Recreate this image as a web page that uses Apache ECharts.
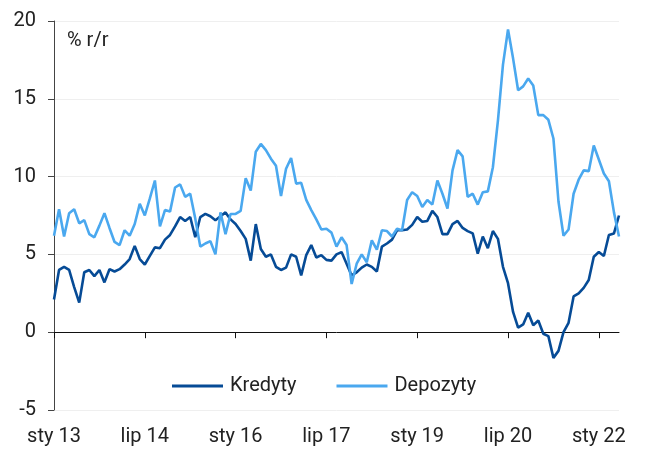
<!DOCTYPE html>
<html>
<head>
<meta charset="utf-8">
<script src="https://cdn.jsdelivr.net/npm/echarts@6/dist/echarts.min.js"></script>
<style>
html,body{margin:0;padding:0;background:#fff;}
#chart{width:646px;height:450px;}
</style>
</head>
<body>
<div id="chart"></div>
<script>
// Month names (Polish abbreviations) and start year for the monthly category axis
const monthNames = ['sty','lut','mar','kwi','maj','cze','lip','sie','wrz','paź','lis','gru'];
const startYear = 2013;
const nPoints = 113; // Jan 2013 .. May 2022
const tickLabels = ['sty 13','lip 14','sty 16','lip 17','sty 19','lip 20','sty 22'];

const kredyty = [
  2.1, 4.0, 4.2, 4.0, 2.9, 1.9, 3.85, 4.0, 3.6, 4.0, 3.2, 4.05,
  3.9, 4.05, 4.35, 4.7, 5.55, 4.7, 4.35, 4.9, 5.45, 5.4, 5.95, 6.25,
  6.8, 7.4, 7.15, 7.4, 6.1, 7.4, 7.6, 7.45, 7.2, 7.45, 7.7, 7.25,
  6.95, 6.5, 6.0, 4.6, 6.95, 5.35, 4.85, 5.0, 4.2, 4.0, 4.15, 5.0,
  4.85, 3.65, 4.95, 5.6, 4.8, 4.95, 4.65, 4.6, 5.0, 5.15, 4.4, 3.65,
  3.85, 4.15, 4.35, 4.2, 3.9, 5.5, 5.7, 5.95, 6.55, 6.55, 6.6, 6.9,
  7.4, 7.1, 7.15, 7.8, 7.4, 6.3, 6.3, 6.95, 7.15, 6.7, 6.5, 6.35,
  5.05, 6.15, 5.4, 6.5, 6.0, 4.2, 3.15, 1.3, 0.3, 0.5, 1.25, 0.45,
  0.75, -0.1, -0.25, -1.65, -1.2, 0.0, 0.6, 2.3, 2.5, 2.85, 3.35, 4.85,
  5.15, 4.9, 6.25, 6.35, 7.5
];

const depozyty = [
  6.2, 7.9, 6.15, 7.65, 7.9, 7.0, 7.2, 6.3, 6.1, 6.85, 7.65, 6.7,
  5.8, 5.6, 6.55, 6.2, 6.95, 8.25, 7.5, 8.6, 9.75, 6.8, 7.85, 7.75,
  9.3, 9.5, 8.7, 8.9, 7.3, 5.5, 5.7, 5.85, 5.0, 7.7, 6.3, 7.6,
  7.6, 7.8, 9.9, 9.1, 11.6, 12.1, 11.7, 11.15, 10.7, 8.75, 10.5, 11.2,
  9.55, 9.6, 8.5, 7.85, 7.25, 6.6, 6.65, 6.4, 5.5, 6.1, 5.6, 3.1,
  4.4, 5.0, 4.5, 5.9, 5.3, 6.55, 6.5, 6.15, 6.65, 6.55, 8.5, 9.0,
  8.75, 8.05, 8.5, 8.2, 9.75, 8.9, 7.95, 10.4, 11.7, 11.3, 8.7, 8.9,
  8.2, 9.0, 9.05, 10.6, 13.6, 17.2, 19.45, 17.6, 15.55, 15.8, 16.3, 15.85,
  13.95, 13.95, 13.65, 12.45, 8.4, 6.2, 6.6, 8.9, 9.8, 10.4, 10.35, 12.0,
  11.1, 10.2, 9.7, 7.7, 6.15
];

const categories = [];
for (let i = 0; i < nPoints; i++) {
  const y = startYear + Math.floor(i / 12);
  categories.push(monthNames[i % 12] + ' ' + String(y % 100).padStart(2, '0'));
}

const FONT = 'Roboto';
const chart = echarts.init(document.getElementById('chart'));
chart.setOption({
  animation: false,
  backgroundColor: '#ffffff',
  grid: { left: 54, right: 27, top: 21, bottom: 40 },
  legend: {
    left: 167, top: 371,
    icon: 'rect',
    itemWidth: 51, itemHeight: 3, itemGap: 40,
    textStyle: { fontFamily: FONT, fontSize: 20, color: '#222', padding: [0, 0, 0, 2] },
    data: ['Kredyty', 'Depozyty']
  },
  graphic: [{
    type: 'text', left: 67, top: 31,
    style: { text: '% r/r', fontFamily: FONT, fontSize: 20, fill: '#222' }
  }],
  xAxis: [{
    type: 'category', data: categories, boundaryGap: false,
    position: 'top',
    axisLine: { onZero: true, lineStyle: { color: '#111', width: 1 } },
    axisTick: { show: true, inside: true, length: 6, interval: 17, lineStyle: { color: '#111' } },
    axisLabel: { show: false },
    splitLine: { show: false }
  }, {
    type: 'category', data: categories, boundaryGap: false,
    position: 'bottom',
    axisLine: { show: false, onZero: false },
    axisTick: { show: false },
    axisLabel: {
      show: true, interval: 17, margin: 17,
      fontFamily: FONT, fontSize: 20, color: '#222'
    },
    splitLine: { show: false }
  }],
  yAxis: {
    type: 'value', min: -5, max: 20, interval: 5,
    axisLine: { show: true, lineStyle: { color: '#444', width: 1 } },
    axisTick: { show: true, length: 6, lineStyle: { color: '#444' } },
    axisLabel: { fontFamily: FONT, fontSize: 20, color: '#222', margin: 18 },
    splitLine: { show: true, lineStyle: { color: '#efefef', width: 1 } }
  },
  series: [{
    name: 'Kredyty', type: 'line', data: kredyty, xAxisIndex: 0,
    symbol: 'none', smooth: false,
    lineStyle: { color: '#064b96', width: 2.6 },
    itemStyle: { color: '#064b96' }
  }, {
    name: 'Depozyty', type: 'line', data: depozyty, xAxisIndex: 0,
    symbol: 'none', smooth: false,
    lineStyle: { color: '#4aa8ef', width: 2.6 },
    itemStyle: { color: '#4aa8ef' }
  }]
});
</script>
</body>
</html>
